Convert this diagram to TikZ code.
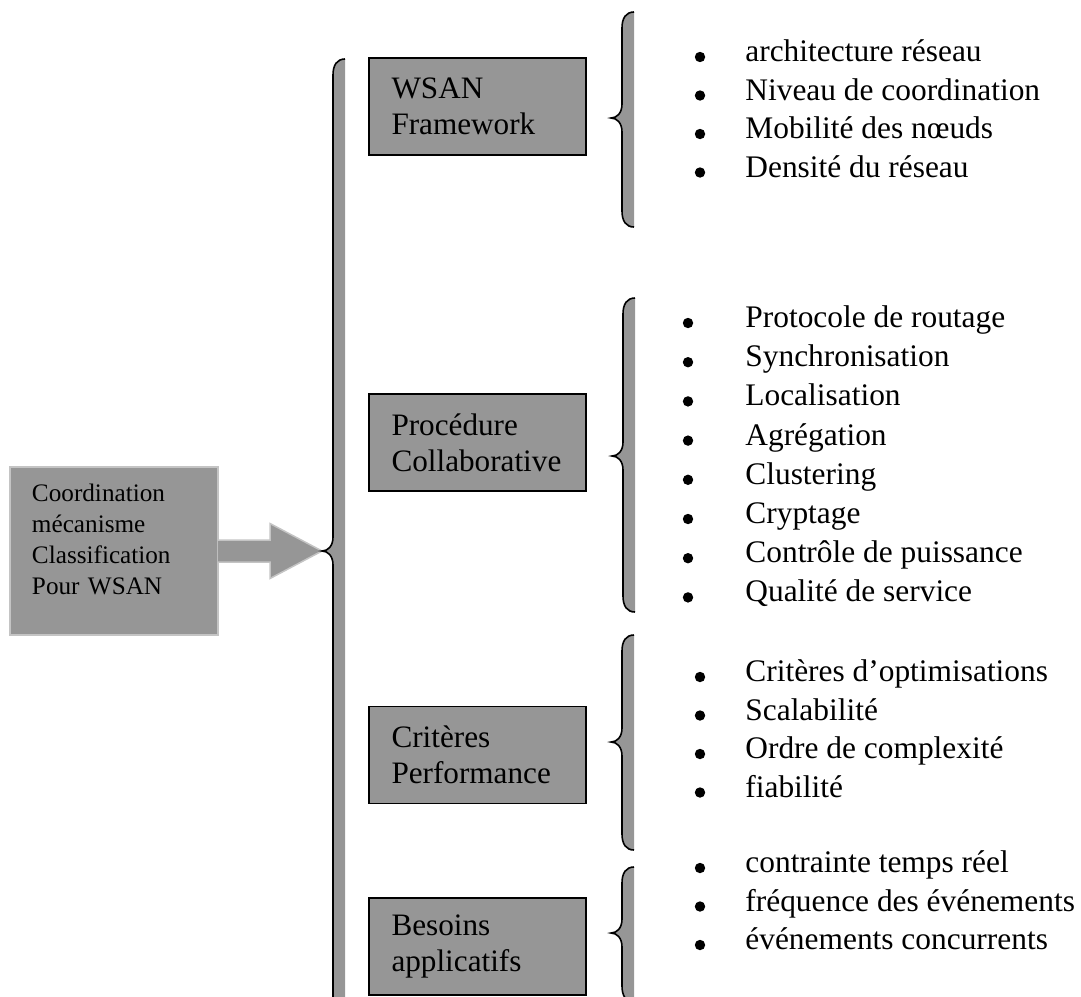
\documentclass[tikz,border=0pt]{standalone}
\usepackage{fontspec}
\setmainfont{Liberation Serif}
\usetikzlibrary{calc}
\definecolor{wordgray}{RGB}{150,150,150}
\definecolor{edgegray}{RGB}{196,196,196}
% one Word-like left brace: right edge, top, tip, bottom (pixel units)
\newcommand{\bracecurve}[4]{(#1,#2) .. controls (#1-8,#2) and (#1-12,#2+6) .. (#1-12,#2+16)
  -- (#1-12,#3-14) .. controls (#1-12,#3-5) and (#1-17,#3) .. (#1-23,#3)
  .. controls (#1-17,#3) and (#1-12,#3+5) .. (#1-12,#3+14)
  -- (#1-12,#4-16) .. controls (#1-12,#4-6) and (#1-8,#4) .. (#1,#4)}
\newcommand{\wbrace}[4]{%
  \fill[wordgray] \bracecurve{#1}{#2}{#3}{#4} -- cycle;
  \draw[bracestroke] \bracecurve{#1}{#2}{#3}{#4};}
\tikzset{
  rootbox/.style={draw=edgegray,fill=wordgray,line width=0.75pt,
                  minimum width=104pt,minimum height=84pt,
                  text width=82pt,inner xsep=11pt,align=left,text depth=58pt,
                  font=\fontsize{12.6}{15.5}\selectfont},
  catbox/.style={draw=black,fill=wordgray,line width=0.8pt,
                 minimum width=108.5pt,minimum height=48.5pt,
                 text width=86pt,inner xsep=11.25pt,align=left,
                 font=\fontsize{15.6}{18}\selectfont},
  itemtxt/.style={anchor=mid west,inner sep=0pt,font=\fontsize{15.7}{18}\selectfont},
  bracestroke/.style={draw=black,line width=0.8pt},
  blockarr/.style={draw=edgegray,fill=wordgray,line width=0.75pt,line join=miter},
}
\begin{document}
\begin{tikzpicture}[x=0.5pt,y=-0.5pt]
  \useasboundingbox (0,0) rectangle (1081,996);
  % root of the classification
  \node[rootbox] (cls) at (114,551)
    {Coordination\\mécanisme\\Classification\\Pour WSAN};
  \coordinate (bigtip) at (322,551);
  \draw[blockarr] ($(cls.east)+(-1,-11)$) -- ($(bigtip)+(-52,-11)$)
    -- ($(bigtip)+(-52,-27.5)$) -- (bigtip) -- ($(bigtip)+(-52,27.5)$)
    -- ($(bigtip)+(-52,11)$) -- ($(cls.east)+(-1,11)$);
  \wbrace{345}{59}{551}{1030}
  % the four families
  \node[catbox] (fw) at (477.5,106.5) {WSAN\\Framework};
  \node[catbox] (pc) at (477.5,442.5) {Procédure\\Collaborative};
  \node[catbox] (cp) at (477.5,755) {Critères\\Performance};
  \node[catbox] (ba) at (477.5,946.5) {Besoins\\applicatifs};
  \wbrace{634}{12}{118}{227}
  \wbrace{635}{298}{456}{612}
  \wbrace{634}{635}{742}{850}
  \wbrace{634}{867}{933}{1002}
  % items
  \foreach \txt [count=\i from 0] in {architecture réseau,Niveau de coordination,
      Mobilité des nœuds,Densité du réseau}{
    \node[itemtxt] (fw\i) at (745,57+38.5*\i) {\txt};
    \fill (700,57+38.5*\i) circle (2.6pt);
  }
  \foreach \txt [count=\i from 0] in {Protocole de routage,Synchronisation,Localisation,
      Agrégation,Clustering,Cryptage,Contrôle de puissance,Qualité de service}{
    \node[itemtxt] (pc\i) at (745,323+39.2*\i) {\txt};
    \fill (688,323+39.2*\i) circle (2.6pt);
  }
  \foreach \txt [count=\i from 0] in {Critères d’optimisations,Scalabilité,
      Ordre de complexité,fiabilité}{
    \node[itemtxt] (cp\i) at (745,677+38.5*\i) {\txt};
    \fill (700,677+38.5*\i) circle (2.6pt);
  }
  \foreach \txt [count=\i from 0] in {contrainte temps réel,fréquence des événements,
      événements concurrents}{
    \node[itemtxt] (ba\i) at (745,868+38.5*\i) {\txt};
    \fill (700,868+38.5*\i) circle (2.6pt);
  }
\end{tikzpicture}
\end{document}
